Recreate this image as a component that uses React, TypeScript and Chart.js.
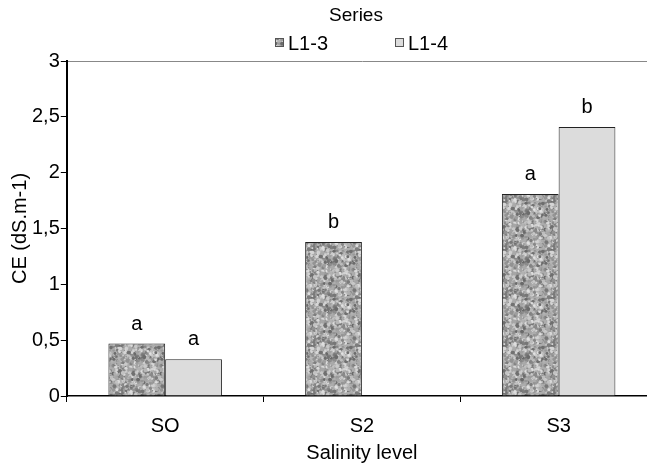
import React, { useEffect, useRef } from "react";
import { Chart, registerables } from "chart.js";

Chart.register(...registerables);

const categories = ["SO", "S2", "S3"];
const seriesNames = ["L1-3", "L1-4"];
const valuesL13 = [0.47, 1.38, 1.81];
const valuesL14 = [0.33, 0, 2.41];
const lettersL13 = ["a", "b", "a"];
const lettersL14 = ["a", "", "b"];
const legendTitle = "Series";
const xTitle = "Salinity level";
const yTitle = "CE (dS.m-1)";

const FONT = "'Liberation Sans', Arial, sans-serif";

function makeTexture(): CanvasPattern | string {
  const c = document.createElement("canvas");
  c.width = 48;
  c.height = 48;
  const g = c.getContext("2d");
  if (!g) return "#a0a0a0";
  g.fillStyle = "#acacac";
  g.fillRect(0, 0, 48, 48);
  let s = 12345;
  const rnd = () => {
    s = (s * 1103515245 + 12345) & 0x7fffffff;
    return s / 0x7fffffff;
  };
  for (let i = 0; i < 700; i++) {
    const x = rnd() * 48;
    const y = rnd() * 48;
    const r = 0.6 + rnd() * 1.4;
    const v = Math.round(105 + rnd() * 120);
    g.fillStyle = `rgb(${v},${v},${v})`;
    for (const dx of [-48, 0, 48]) {
      for (const dy of [-48, 0, 48]) {
        g.beginPath();
        g.arc(x + dx, y + dy, r, 0, Math.PI * 2);
        g.fill();
      }
    }
  }
  const p = g.createPattern(c, "repeat");
  return p || "#a0a0a0";
}

export default function App() {
  const ref = useRef<HTMLCanvasElement>(null);

  useEffect(() => {
    const canvas = ref.current;
    if (!canvas) return;
    const texture = makeTexture();
    const fills = [texture, "#dcdcdc"];
    const letters = [lettersL13, lettersL14];

    const lettersPlugin = {
      id: "letters",
      afterDatasetsDraw(chart: any) {
        const ctx = chart.ctx;
        ctx.save();
        ctx.font = `20px ${FONT}`;
        ctx.fillStyle = "#000";
        ctx.textAlign = "center";
        ctx.textBaseline = "alphabetic";
        chart.data.datasets.forEach((ds: any, di: number) => {
          const meta = chart.getDatasetMeta(di);
          meta.data.forEach((bar: any, i: number) => {
            const t = letters[di][i];
            if (t) ctx.fillText(t, bar.x, bar.y - 14);
          });
        });
        ctx.restore();
      },
    };

    const legendPlugin = {
      id: "customLegend",
      afterDraw(chart: any) {
        const ctx = chart.ctx;
        ctx.save();
        ctx.fillStyle = "#000";
        ctx.textBaseline = "middle";
        ctx.textAlign = "center";
        ctx.font = `19px ${FONT}`;
        ctx.fillText(legendTitle, 356, 16);
        ctx.font = `20px ${FONT}`;
        ctx.textAlign = "left";
        const y = 43;
        const box = 9;
        const starts = [275, 395];
        seriesNames.forEach((name, i) => {
          const x = starts[i];
          ctx.fillStyle = fills[i] as any;
          ctx.fillRect(x, y - box / 2 - 0.5, box, box);
          ctx.strokeStyle = "#555";
          ctx.lineWidth = 1;
          ctx.strokeRect(x + 0.5, y - box / 2, box - 1, box - 1);
          ctx.fillStyle = "#000";
          ctx.fillText(name, x + box + 4, y + 1);
        });
        ctx.restore();
      },
    };

    const chart = new Chart(canvas, {
      type: "bar",
      data: {
        labels: categories,
        datasets: [
          {
            label: seriesNames[0],
            data: valuesL13,
            backgroundColor: texture as any,
            borderColor: "#222",
            borderWidth: 1,
          },
          {
            label: seriesNames[1],
            data: valuesL14,
            backgroundColor: "#dcdcdc",
            borderColor: "#222",
            borderWidth: 1,
          },
        ],
      },
      options: {
        responsive: false,
        animation: false,
        devicePixelRatio: 1,
        layout: { padding: { top: 61, right: 3, bottom: 0, left: 0 } },
        datasets: {
          bar: { categoryPercentage: 0.577, barPercentage: 1 },
        },
        plugins: {
          legend: { display: false },
          tooltip: { enabled: false },
          title: { display: false },
        },
        scales: {
          x: {
            grid: {
              drawOnChartArea: false,
              tickLength: 6,
              tickColor: "#000",
              offset: true,
            },
            border: { display: true, color: "#000", width: 1.5 },
            ticks: {
              color: "#000",
              font: { family: FONT, size: 20 },
              padding: 12,
            },
            title: {
              display: true,
              text: xTitle,
              color: "#000",
              font: { family: FONT, size: 20 },
              padding: { top: -9, bottom: -2 },
            },
          },
          y: {
            min: 0,
            max: 3,
            grid: {
              drawOnChartArea: true,
              color: (c: any) =>
                c.tick && c.tick.value === 3 ? "#888888" : "rgba(0,0,0,0)",
              tickColor: "#000",
              tickLength: 6,
            },
            border: { display: true, color: "#000", width: 2 },
            ticks: {
              stepSize: 0.5,
              color: "#000",
              font: { family: FONT, size: 20 },
              padding: 1,
              callback: (v: any) => String(v).replace(".", ","),
            },
            title: {
              display: true,
              text: yTitle,
              color: "#000",
              font: { family: FONT, size: 20, lineHeight: 1.1 },
              padding: { top: 9, bottom: 0 },
            },
          },
        },
      },
      plugins: [lettersPlugin, legendPlugin],
    });
    return () => chart.destroy();
  }, []);

  return (
    <div
      style={{
        position: "absolute",
        left: 0,
        top: 0,
        width: 647,
        height: 463,
        overflow: "hidden",
        background: "#fff",
      }}
    >
      <canvas
        ref={ref}
        width={660}
        height={463}
        style={{ display: "block", width: 660, height: 463 }}
      />
    </div>
  );
}
